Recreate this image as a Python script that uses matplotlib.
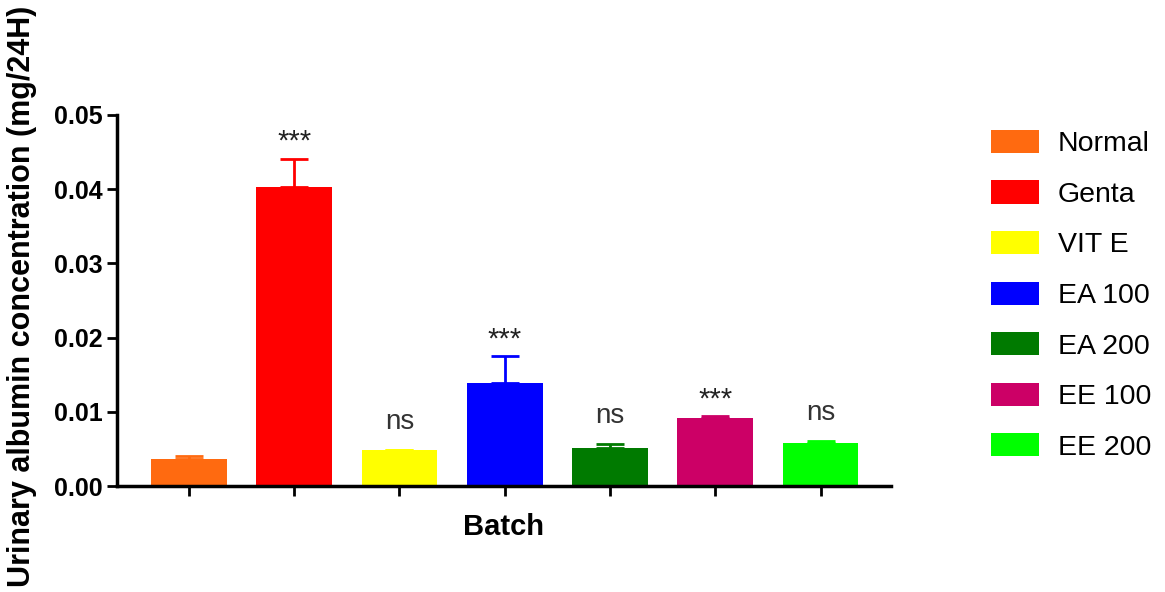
import numpy as np
import matplotlib
matplotlib.use('Agg')
import matplotlib.pyplot as plt

plt.rcParams['font.family'] = ['Liberation Sans', 'DejaVu Sans']

groups = ['Normal', 'Genta', 'VIT E', 'EA 100', 'EA 200', 'EE 100', 'EE 200']
means = [0.0036, 0.0403, 0.0048, 0.0139, 0.0051, 0.0092, 0.0058]
errors = [0.0005, 0.0038, 0.0001, 0.0036, 0.0006, 0.0002, 0.0003]
marks = ['', '***', 'ns', '***', 'ns', '***', 'ns']
colors = ['#FF6A10', '#FF0000', '#FFFF00', '#0000FF', '#007A00', '#CC0066', '#00FF00']

fig = plt.figure(figsize=(11.65, 5.92), dpi=100)
ax = fig.add_axes([0.1004, 0.179, 0.664, 0.627])

x = np.arange(len(groups))
for i in range(len(groups)):
    ax.bar(x[i], means[i], width=0.72, color=colors[i], label=groups[i], zorder=2)
    ax.errorbar(x[i], means[i], yerr=[[0], [errors[i]]], fmt='none',
                ecolor=colors[i], elinewidth=2, capsize=10, capthick=2, zorder=3)
    if marks[i] == '***':
        ax.annotate(marks[i], (x[i], means[i] + errors[i]), xytext=(0, 12),
                    textcoords='offset points', ha='center', va='center',
                    fontsize=21, color='#222222')
    elif marks[i] == 'ns':
        ax.annotate(marks[i], (x[i], means[i] + errors[i]), xytext=(0, 20),
                    textcoords='offset points', ha='center', va='center',
                    fontsize=20, color='#333333')

ax.set_xlim(-0.684, 6.665)
ax.set_ylim(0, 0.05)
ax.set_yticks([0.00, 0.01, 0.02, 0.03, 0.04, 0.05])
ax.set_yticklabels(['0.00', '0.01', '0.02', '0.03', '0.04', '0.05'])
ax.set_xticks(x)
ax.set_xticklabels([])
ax.tick_params(axis='both', width=2, length=7, color='black')
ax.tick_params(axis='y', labelsize=18, pad=3)
for lab in ax.get_yticklabels():
    lab.set_fontweight('bold')
for side in ['top', 'right']:
    ax.spines[side].set_visible(False)
for side in ['left', 'bottom']:
    ax.spines[side].set_linewidth(2.5)

ax.set_ylabel('Urinary albumin concentration (mg/24H)', fontsize=22, fontweight='bold')
ax.yaxis.set_label_coords(-0.1035, 0.512)
ax.set_xlabel('Batch', fontsize=21, fontweight='bold')
ax.xaxis.set_label_coords(0.5, -0.073)

ax.legend(loc='upper left', bbox_to_anchor=(1.115, 0.99), frameon=False,
          fontsize=20.5, handlelength=1.68, handleheight=0.88,
          labelspacing=0.81, handletextpad=0.67, borderaxespad=0)

fig.savefig('out.png', dpi=100)
